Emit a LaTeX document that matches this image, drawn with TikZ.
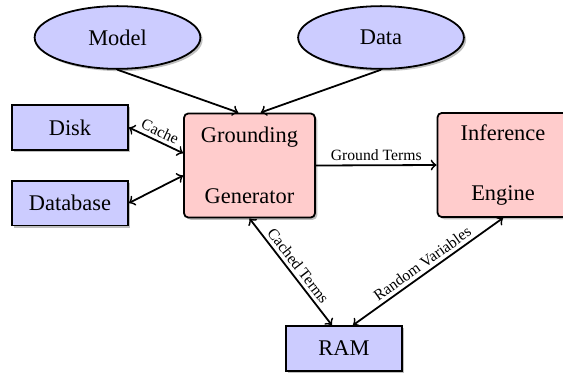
\documentclass[tikz,border=0pt]{standalone}
\usepackage{fontspec}
\setmainfont{Liberation Serif}
\usepackage{tikz}
\usetikzlibrary{shapes, shadows, arrows, calc}

\tikzset{
	store/.style={draw, fill=blue!20, minimum width=51.8pt, minimum height=20pt, inner sep=1pt, drop shadow={shadow xshift=1pt, shadow yshift=-1pt, opacity=0.5}},
	source/.style={ellipse, draw, fill=blue!20, minimum width=74pt, minimum height=28pt, inner sep=1pt, drop shadow={shadow xshift=1pt, shadow yshift=-1pt, opacity=0.5}},
	engine/.style={draw, rounded corners=2pt, fill=red!20, minimum width=58.5pt, minimum height=46.5pt, align=center, inner sep=1pt, drop shadow={shadow xshift=1pt, shadow yshift=-1pt, opacity=0.5}},
	edgelabel/.style={font=\scriptsize, inner sep=1.5pt}
}

\begin{document}
\begin{tikzpicture}[x=0.4464pt, y=-0.4464pt, thick]
					\useasboundingbox (0,0) rectangle (563,372);
					
					\node [source] (model) at (117.5,37.5) {Model};
					\node [source] (data) at (381,37.5) {Data};
					
					\node [store] (disk) at (70,127.5) {Disk};
					\node [store] (database) at (70,203) {Database};
					\node [store] (ram) at (344,348.5) {RAM};
					
					\node [engine] (gen) at (249.5,165.5) {Grounding\\[15pt]Generator};
					\node [engine] (inf) at (503,165) {Inference\\[15pt]Engine};
					
					\draw [->] (model.south) -- ([xshift=-5pt]gen.north);
					\draw [->] (data.south) -- ([xshift=5pt]gen.north);
					
					\draw [<->] (disk.east) -- node [edgelabel, sloped, above] {Cache} ([yshift=5.5pt]gen.west);
					\draw [<->] (database.east) -- ([yshift=-4.5pt]gen.west);
					
					\draw [->] (gen.east) -- node [edgelabel, above] {Ground Terms} (inf.west);
					
					\draw [<->] (gen.south) -- node [edgelabel, sloped, above] {Cached Terms} ([xshift=-5.4pt]ram.north);
					\draw [<->] ([xshift=4pt]ram.north) -- node [edgelabel, sloped, above] {Random Variables} (inf.south);
\end{tikzpicture}
\end{document}
